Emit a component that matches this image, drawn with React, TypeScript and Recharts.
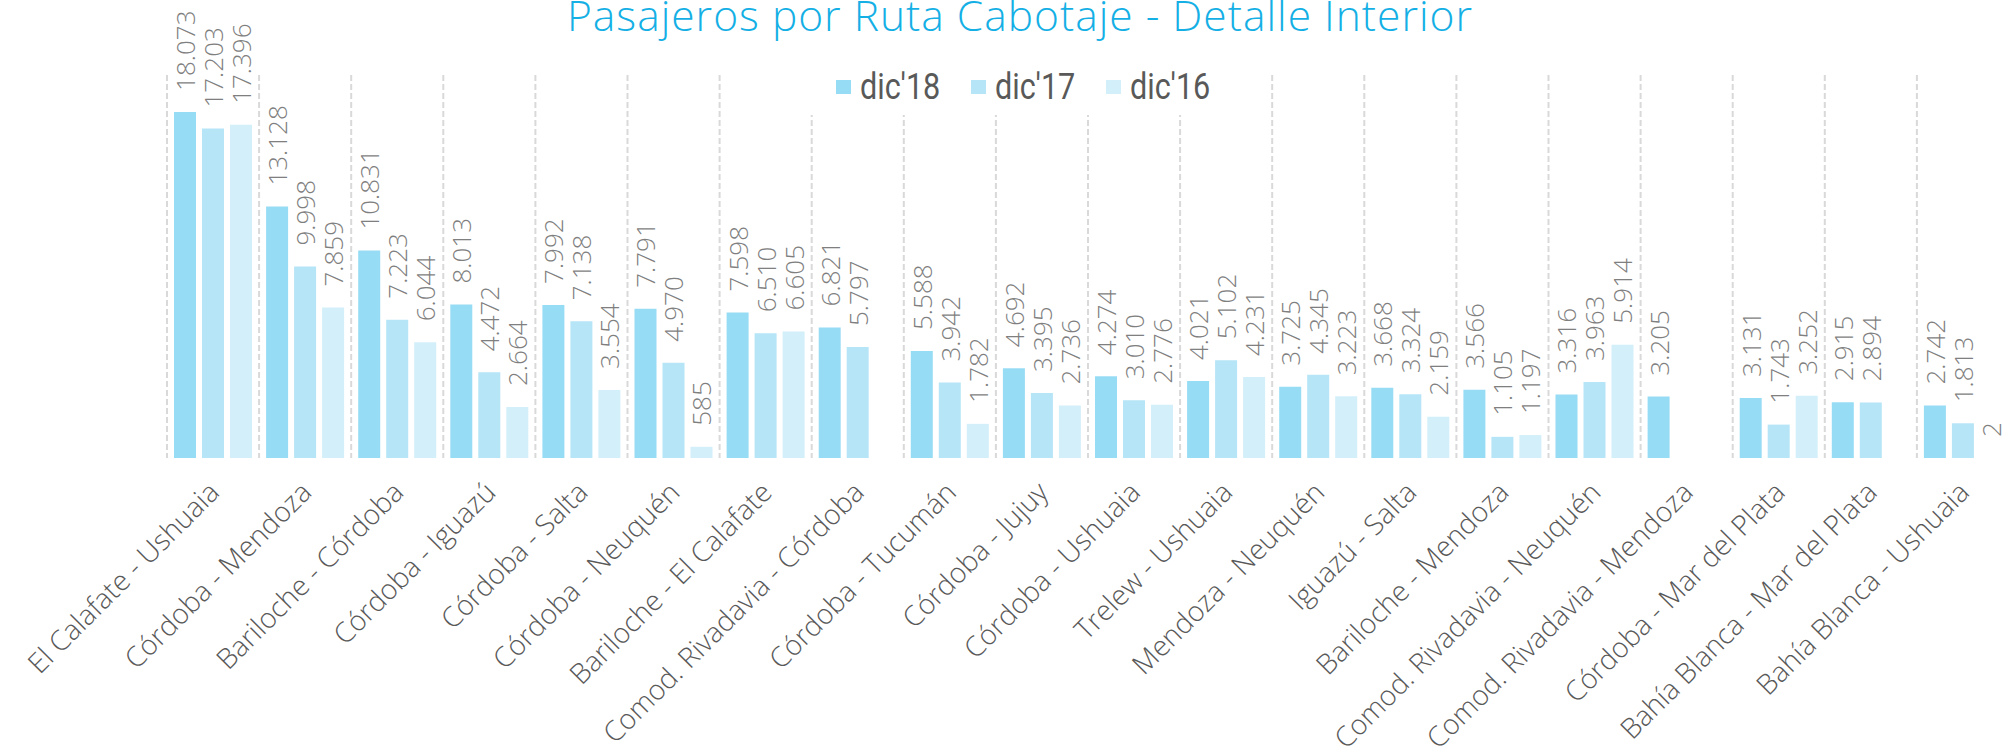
import { Bar, BarChart, CartesianGrid, LabelList, XAxis, YAxis } from 'recharts'

const routes = [
  'El Calafate - Ushuaia',
  'Córdoba - Mendoza',
  'Bariloche - Córdoba',
  'Córdoba - Iguazú',
  'Córdoba - Salta',
  'Córdoba - Neuquén',
  'Bariloche - El Calafate',
  'Comod. Rivadavia - Córdoba',
  'Córdoba - Tucumán',
  'Córdoba - Jujuy',
  'Córdoba - Ushuaia',
  'Trelew - Ushuaia',
  'Mendoza - Neuquén',
  'Iguazú - Salta',
  'Bariloche - Mendoza',
  'Comod. Rivadavia - Neuquén',
  'Comod. Rivadavia - Mendoza',
  'Córdoba - Mar del Plata',
  'Bahía Blanca - Mar del Plata',
  'Bahía Blanca - Ushuaia',
]

const dic18 = [18073, 13128, 10831, 8013, 7992, 7791, 7598, 6821, 5588, 4692, 4274, 4021, 3725, 3668, 3566, 3316, 3205, 3131, 2915, 2742]
const dic17 = [17203, 9998, 7223, 4472, 7138, 4970, 6510, 5797, 3942, 3395, 3010, 5102, 4345, 3324, 1105, 3963, null, 1743, 2894, 1813]
const dic16 = [17396, 7859, 6044, 2664, 3554, 585, 6605, null, 1782, 2736, 2776, 4231, 3223, 2159, 1197, 5914, null, 3252, null, 2]

const series = [
  { key: 'd18', name: "dic'18", color: '#97dcf5' },
  { key: 'd17', name: "dic'17", color: '#b6e5f7' },
  { key: 'd16', name: "dic'16", color: '#d3effa' },
]

const data = routes.map((ruta, i) => ({ ruta, d18: dic18[i], d17: dic17[i], d16: dic16[i] }))

const LIGHT = '"Open Sans", Lato, sans-serif'

const fmt = (v: number) => String(v).replace(/\B(?=(\d{3})+(?!\d))/g, '.')

function ValueLabel(props: any) {
  const { x, y, width, value } = props
  if (value == null) return null
  const cx = x + width / 2
  const ty = y - 21
  return (
    <text
      x={cx}
      y={ty}
      transform={`rotate(-90, ${cx}, ${ty})`}
      textAnchor="start"
      dominantBaseline="central"
      fill="#7f7f7f"
      fontSize={26}
      fontFamily={LIGHT}
      fontWeight={300}
    >
      {fmt(value)}
    </text>
  )
}

function RouteTick(props: any) {
  const { x, y, payload } = props
  const tx = x + 8
  const ty = y + 28
  return (
    <text
      x={tx}
      y={ty}
      transform={`rotate(-45, ${tx}, ${ty})`}
      textAnchor="end"
      fill="#595959"
      fontSize={28}
      fontFamily={LIGHT}
      fontWeight={300}
    >
      {payload.value}
    </text>
  )
}

export default function App() {
  return (
    <div style={{ position: 'absolute', left: 0, top: 0, width: 2005, height: 753, overflow: 'hidden', background: '#fff' }}>
      <BarChart
        width={2009}
        height={753}
        data={data}
        margin={{ top: 75, right: 0, left: 167, bottom: 0 }}
        barGap={6}
        barSize={22}
      >
        <CartesianGrid
          horizontal={false}
          stroke="#d9d9d9"
          strokeWidth={2}
          strokeDasharray="6 3"
          verticalCoordinatesGenerator={({ offset }: any) =>
            routes.map((_, i) => offset.left + (i * offset.width) / routes.length)
          }
        />
        <XAxis dataKey="ruta" axisLine={false} tickLine={false} interval={0} height={295} tick={<RouteTick />} />
        <YAxis hide domain={[0, 20000]} />
        {series.map((s) => (
          <Bar key={s.key} dataKey={s.key} name={s.name} fill={s.color} isAnimationActive={false}>
            <LabelList dataKey={s.key} content={<ValueLabel />} />
          </Bar>
        ))}
      </BarChart>

      <svg width={2005} height={50} style={{ position: 'absolute', left: 0, top: 0 }}>
        <text
          x={1020}
          y={31}
          textAnchor="middle"
          fontFamily={LIGHT}
          fontWeight={300}
          fontSize={42.5}
          letterSpacing={1}
          fill="#14afe5"
        >
          Pasajeros por Ruta Cabotaje - Detalle Interior
        </text>
      </svg>

      <div
        style={{
          position: 'absolute',
          left: 800,
          top: 58,
          width: 430,
          height: 57,
          background: '#fff',
          display: 'flex',
          alignItems: 'center',
          paddingLeft: 36,
          boxSizing: 'border-box',
          fontFamily: 'Roboto, sans-serif',
          color: '#595959',
        }}
      >
        {series.map((s) => (
          <div key={s.key} style={{ display: 'flex', alignItems: 'center', marginRight: 29 }}>
            <span style={{ width: 15, height: 14, background: s.color, marginRight: 9, display: 'inline-block' }} />
            <span
              style={{
                fontSize: 36,
                display: 'inline-block',
                transform: 'scaleX(0.85)',
                transformOrigin: 'left center',
                width: 82,
                lineHeight: '40px',
              }}
            >
              {s.name}
            </span>
          </div>
        ))}
      </div>
    </div>
  )
}
